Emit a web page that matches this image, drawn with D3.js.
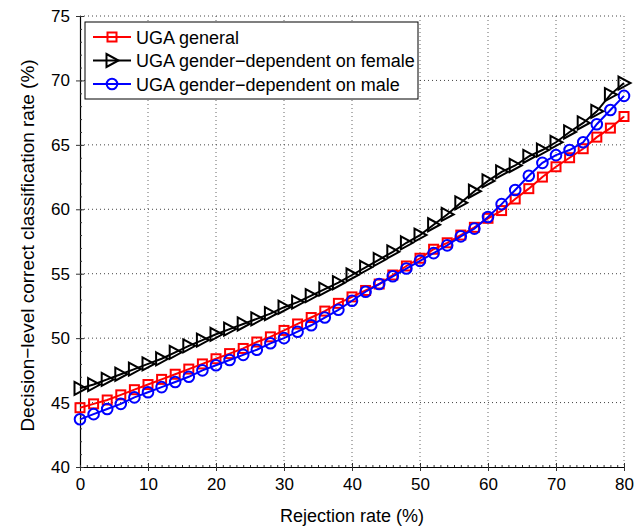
<!DOCTYPE html>
<html><head><meta charset="utf-8">
<script src="https://cdn.jsdelivr.net/npm/d3@7"></script>
<style>body{margin:0;background:#fff;} text{font-family:"Liberation Sans",Arial,sans-serif;}</style>
</head><body><svg id="c" width="644" height="528"></svg>
<script>
const xValues = d3.range(0, 81, 2);
const general = [44.6,44.9,45.2,45.6,46.0,46.4,46.8,47.2,47.6,48.0,48.4,48.8,49.2,49.7,50.1,50.6,51.1,51.6,52.1,52.7,53.2,53.7,54.2,54.9,55.6,56.2,56.9,57.4,58.0,58.6,59.3,59.9,60.8,61.6,62.5,63.3,64.0,64.7,65.6,66.3,67.2];
const female = [46.1,46.4,46.8,47.2,47.6,48.0,48.4,48.9,49.4,49.85,50.3,50.7,51.1,51.5,51.9,52.4,52.8,53.3,53.8,54.3,54.9,55.5,56.1,56.7,57.4,58.0,58.8,59.6,60.5,61.4,62.2,62.9,63.4,64.1,64.6,65.2,66.0,66.7,67.6,68.9,69.8];
const male = [43.7,44.1,44.5,44.9,45.4,45.8,46.2,46.6,47.0,47.5,47.9,48.3,48.7,49.1,49.6,50.0,50.5,51.0,51.6,52.2,52.9,53.6,54.2,54.8,55.4,56.0,56.6,57.2,57.9,58.5,59.4,60.4,61.5,62.6,63.6,64.2,64.6,65.2,66.6,67.7,68.8];
const xTicks = [0,10,20,30,40,50,60,70,80];
const yTicks = [40,45,50,55,60,65,70,75];
const seriesNames = ["UGA general","UGA gender\u2212dependent on female","UGA gender\u2212dependent on male"];
const seriesColors = ["#ff0000","#000000","#0000ff"];
const seriesMarkers = ["square","triangle","circle"];
const seriesData = [general, female, male];

const svg = d3.select("#c");
const L = 80, R = 624, T = 16, B = 467;
const x = d3.scaleLinear().domain([0,80]).range([L,R]);
const y = d3.scaleLinear().domain([40,75]).range([B,T]);

// grid
const g = svg.append("g");
g.selectAll(".vg").data(xTicks.slice(1)).enter().append("line")
  .attr("x1",d=>x(d)).attr("x2",d=>x(d)).attr("y1",T).attr("y2",B)
  .attr("stroke","#666").attr("stroke-width",1).attr("stroke-dasharray","1,3");
g.selectAll(".hg").data(yTicks.slice(1)).enter().append("line")
  .attr("y1",d=>y(d)).attr("y2",d=>y(d)).attr("x1",L).attr("x2",R)
  .attr("stroke","#444").attr("stroke-width",1).attr("stroke-dasharray","1,3");

// axes
const xAxis = d3.axisBottom(x).tickValues(xTicks).tickSizeInner(-5).tickSizeOuter(0).tickPadding(11);
const yAxis = d3.axisLeft(y).tickValues(yTicks).tickSizeInner(-5).tickSizeOuter(0).tickPadding(10);
const xa = svg.append("g").attr("transform",`translate(0,${B})`).call(xAxis);
const ya = svg.append("g").attr("transform",`translate(${L},0)`).call(yAxis);
// minor ticks
const xMinor = d3.axisBottom(x).tickValues(d3.range(0,81,1)).tickSize(-2).tickFormat("");
const yMinor = d3.axisLeft(y).tickValues(d3.range(40,76,1)).tickSize(-2).tickFormat("");
svg.append("g").attr("transform",`translate(0,${B})`).call(xMinor).select(".domain").remove();
svg.append("g").attr("transform",`translate(${L},0)`).call(yMinor).select(".domain").remove();
[xa,ya].forEach(a=>{
  a.selectAll("text").attr("font-size",17).attr("fill","#000").attr("font-family","Liberation Sans, Arial, sans-serif");
  a.select(".domain").attr("stroke","#000").attr("stroke-width",1.2);
});
ya.selectAll(".tick line").attr("x1",-4).attr("x2",4);
xa.selectAll(".tick line").attr("y1",4).attr("y2",-4);
svg.selectAll(".tick line").attr("stroke","#333");

function drawMarker(sel, type, color, cx, cy){
  if(type==="square"){
    sel.append("rect").attr("x",cx-4.5).attr("y",cy-4.5).attr("width",9).attr("height",9)
      .attr("fill","none").attr("stroke",color).attr("stroke-width",2);
  } else if(type==="circle"){
    sel.append("circle").attr("cx",cx).attr("cy",cy).attr("r",5.3)
      .attr("fill","none").attr("stroke",color).attr("stroke-width",2);
  } else {
    sel.append("path").attr("d",`M${cx-5.5},${cy-6.5}L${cx+6.5},${cy}L${cx-5.5},${cy+6.5}Z`)
      .attr("fill","none").attr("stroke",color).attr("stroke-width",2);
  }
}

const line = d3.line().x((d,i)=>x(xValues[i])).y(d=>y(d));
const order = [0,2,1];
order.forEach(k=>{
  const s = svg.append("g");
  s.append("path").datum(seriesData[k]).attr("d",line).attr("fill","none")
    .attr("stroke",seriesColors[k]).attr("stroke-width",2);
  seriesData[k].forEach((v,i)=>drawMarker(s, seriesMarkers[k], seriesColors[k], x(xValues[i]), y(v)));
});

// legend
const lg = svg.append("g");
lg.append("rect").attr("x",85).attr("y",22).attr("width",333).attr("height",77)
  .attr("fill","#fff").attr("stroke","#000").attr("stroke-width",1);
seriesNames.forEach((n,i)=>{
  const cy = 37 + i*23.5;
  lg.append("line").attr("x1",93).attr("x2",131).attr("y1",cy).attr("y2",cy)
    .attr("stroke",seriesColors[i]).attr("stroke-width",2);
  drawMarker(lg, seriesMarkers[i], seriesColors[i], 112, cy);
  lg.append("text").attr("x",136).attr("y",cy+6.5).attr("font-size",18).text(n);
});

// axis titles
svg.append("text").attr("x",(L+R)/2).attr("y",522).attr("text-anchor","middle")
  .attr("font-size",18).text("Rejection rate (%)");
svg.append("text").attr("transform",`translate(34,${(T+B)/2 + 4}) rotate(-90)`).attr("text-anchor","middle")
  .attr("font-size",19).text("Decision\u2212level correct classification rate (%)");
</script></body></html>
